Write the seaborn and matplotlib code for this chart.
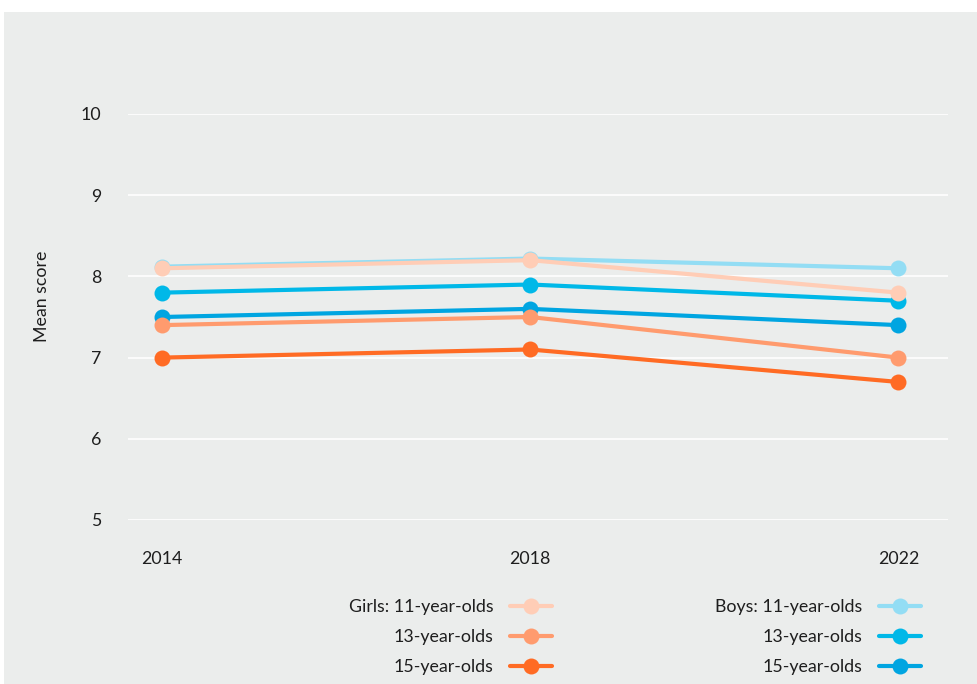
import matplotlib
matplotlib.use("Agg")
import matplotlib.pyplot as plt
from matplotlib.patches import Rectangle
import seaborn as sns
import pandas as pd

# Survey years and mean scores per group
years = [2014, 2018, 2022]
boys_11 = [8.12, 8.22, 8.1]
boys_13 = [7.8, 7.9, 7.7]
boys_15 = [7.5, 7.6, 7.4]
girls_11 = [8.1, 8.2, 7.8]
girls_13 = [7.4, 7.5, 7.0]
girls_15 = [7.0, 7.1, 6.7]

series_names = ["Boys: 11-year-olds", "Boys: 13-year-olds", "Boys: 15-year-olds",
                "Girls: 11-year-olds", "Girls: 13-year-olds", "Girls: 15-year-olds"]
series_values = [boys_11, boys_13, boys_15, girls_11, girls_13, girls_15]
legend_labels = {
    "Girls: 11-year-olds": "Girls: 11-year-olds",
    "Girls: 13-year-olds": "13-year-olds",
    "Girls: 15-year-olds": "15-year-olds",
    "Boys: 11-year-olds": "Boys: 11-year-olds",
    "Boys: 13-year-olds": "13-year-olds",
    "Boys: 15-year-olds": "15-year-olds",
}
y_ticks = [5, 6, 7, 8, 9, 10]

palette = {
    "Boys: 11-year-olds": "#93DDF4",
    "Boys: 13-year-olds": "#00B8E8",
    "Boys: 15-year-olds": "#00A5E1",
    "Girls: 11-year-olds": "#FFCDB6",
    "Girls: 13-year-olds": "#FF9B6E",
    "Girls: 15-year-olds": "#FF6B24",
}

rows = []
for name, vals in zip(series_names, series_values):
    for yr, v in zip(years, vals):
        rows.append({"year": yr, "score": v, "group": name})
df = pd.DataFrame(rows)

BG = "#EBEDEC"
FS = 12.8
TXT = "#1E1E1E"
sns.set_theme(style="whitegrid")
plt.rcParams["font.family"] = ["Lato", "DejaVu Sans"]

fig = plt.figure(figsize=(9.78, 6.84), dpi=100)
fig.patch.set_facecolor("white")
fig.add_artist(Rectangle((4 / 978, 0), 1, 1 - 12 / 684, transform=fig.transFigure,
                         facecolor=BG, edgecolor="none", zorder=-10))

ax = fig.add_axes([128 / 978, 164 / 684, 820 / 978, 406 / 684])
ax.set_facecolor(BG)

sns.lineplot(data=df, x="year", y="score", hue="group", hue_order=series_names,
             palette=palette, marker="o", markersize=11.5, markeredgewidth=0,
             linewidth=3, ax=ax, legend=True, clip_on=False)

ax.set_xlim(2013.63, 2022.54)
ax.set_ylim(5, 10)
ax.set_xticks(years)
ax.set_xticklabels([str(y) for y in years])
ax.set_yticks(y_ticks)
ax.set_yticklabels([str(t) for t in y_ticks])
ax.grid(axis="x", visible=False)
ax.grid(axis="y", color="white", linewidth=1.2)
for s in ax.spines.values():
    s.set_visible(False)
ax.tick_params(axis="y", length=0, pad=19, labelsize=FS, labelcolor=TXT)
ax.tick_params(axis="x", length=0, pad=22, labelsize=FS, labelcolor=TXT)
ax.set_xlabel("")
ax.set_ylabel("Mean score", fontsize=FS, color=TXT)
ax.yaxis.set_label_coords(-(128 - 42) / 820, (520 - 296) / 406)
ax.yaxis.label.set_va("center")

handles, labels = ax.get_legend_handles_labels()
hmap = dict(zip(labels, handles))
ax.get_legend().remove()

def make_legend(names, anchor_x):
    hs = [hmap[n] for n in names]
    ls = [legend_labels[n] for n in names]
    leg = ax.legend(hs, ls, loc="upper right", bbox_to_anchor=(anchor_x / 978, 1 - 599 / 684),
                    bbox_transform=fig.transFigure, frameon=False, markerfirst=False,
                    fontsize=FS, handlelength=2.35, handletextpad=0.95, labelspacing=0.8,
                    borderaxespad=0, borderpad=0)
    for t in leg.get_texts():
        t.set_color(TXT)
    return leg

leg1 = make_legend(["Girls: 11-year-olds", "Girls: 13-year-olds", "Girls: 15-year-olds"], 552)
ax.add_artist(leg1)
make_legend(["Boys: 11-year-olds", "Boys: 13-year-olds", "Boys: 15-year-olds"], 921)

fig.savefig("out.png", dpi=100, facecolor="white")
